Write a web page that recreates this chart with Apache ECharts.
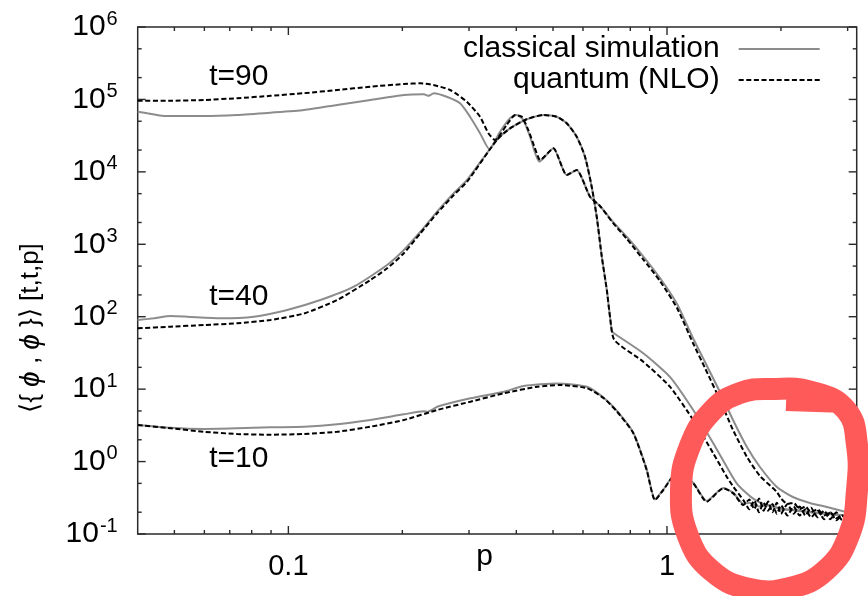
<!DOCTYPE html>
<html><head><meta charset="utf-8">
<script src="https://cdn.jsdelivr.net/npm/echarts@6/dist/echarts.min.js"></script>
<style>html,body{margin:0;padding:0;background:#fff}#c{width:868px;height:596px}</style>
</head><body><div id="c"></div><script>
// ---- data (p, value) ----
const t90_cl_p = [0.04,0.0424,0.0469,0.0599,0.0732,0.0897,0.110,0.1345,0.1647,0.2018,0.2279,0.2349,0.2421,0.2620,0.2841,0.3019,0.3208,0.3396,0.3623,0.3850,0.4011,0.4175,0.4348,0.4602,0.5010,0.5434,0.5775,0.6261,0.6653,0.7202,0.7840,0.8641,0.9583,1.063,1.171,1.26,1.38,1.494,1.626,1.76,1.951,2.15,2.385,2.646,3.04,3.17];
const t90_cl_v = [6.77e4,6.43e4,5.90e4,5.90e4,6.10e4,6.56e4,7.14e4,8.38e4,9.82e4,1.15e5,1.18e5,1.12e5,1.22e5,1.09e5,8.84e4,5.77e4,3.41e4,2.05e4,3.58e4,5.49e4,6.10e4,5.20e4,3.06e4,1.38e4,2.11e4,9.05e3,1.06e4,4.54e3,3.38e3,2.03e3,1.26e3,689,342,150,50.8,23.7,9.13,3.75,1.59,0.841,0.445,0.324,0.268,0.236,0.195,0.183];

const t90_qu_p = [0.04,0.0489,0.0599,0.0732,0.0897,0.110,0.1345,0.1647,0.2018,0.2228,0.2415,0.2674,0.2960,0.3208,0.3375,0.3515,0.3773,0.3971,0.4135,0.4303,0.4529,0.4621,0.5010,0.5434,0.5775,0.6261,0.6653,0.7202,0.7840,0.8641,0.9583,1.063,1.171,1.26,1.38,1.494,1.626,1.76,1.951,2.0,2.08,2.16,2.24,2.32,2.4,2.5,2.6,2.7,2.8,2.9,3.0,3.1,3.17];
const t90_qu_v = [9.60e4,9.60e4,9.82e4,1.04e5,1.12e5,1.22e5,1.35e5,1.50e5,1.63e5,1.67e5,1.58e5,1.35e5,9.30e4,5.77e4,3.41e4,2.75e4,4.44e4,6.10e4,5.77e4,3.78e4,1.80e4,1.46e4,2.11e4,9.05e3,1.06e4,4.54e3,3.38e3,1.97e3,1.18e3,626,311,132,43.4,19.6,7.08,2.73,1.16,0.632,0.380,0.31,0.26,0.27,0.22,0.24,0.20,0.22,0.18,0.20,0.165,0.18,0.155,0.165,0.15];

const t40_cl_p = [0.04,0.0442,0.0489,0.0540,0.0662,0.0811,0.0993,0.1215,0.1489,0.1823,0.2018,0.2232,0.2471,0.2734,0.2965,0.3551,0.3850,0.4261,0.4715,0.5113,0.5434,0.5775,0.6074,0.6326,0.6523,0.6727,0.6935,0.7071,0.7145,0.7214,0.8657,1.018,1.173,1.325,1.438,1.528,1.623,1.7,1.8,1.9,2.0,2.2,2.4,2.6,2.8,3.0,3.17];
const t40_cl_v = [90.1,95.1,102,100,95.1,100,124,170,260,517,834,1490,2820,5060,7720,27500,39900,53200,61000,57700,46800,30600,16200,6240,2400,674,234,100,65.5,60.1,31.3,14.8,5.15,1.79,0.849,0.501,0.364,0.30,0.26,0.24,0.225,0.21,0.20,0.19,0.185,0.18,0.175];

const t40_qu_p = [0.04,0.0489,0.0599,0.0732,0.0897,0.110,0.1345,0.1647,0.1823,0.2018,0.2232,0.2471,0.2734,0.2965,0.3551,0.3850,0.4261,0.4715,0.5113,0.5434,0.5775,0.6074,0.6326,0.6523,0.6727,0.6935,0.7071,0.7259,0.8657,1.018,1.173,1.325,1.438,1.497,1.591,1.65,1.7,1.75,1.8,1.85,1.9,1.95,2.0,2.08,2.16,2.24,2.32,2.4,2.5,2.6,2.7,2.8,2.9,3.0,3.1,3.17];
const t40_qu_v = [69.2,72.8,76.8,81.1,90.1,111,170,321,466,751,1420,2680,4790,7310,27500,39900,53200,61000,57700,46800,30600,16200,6240,2400,674,234,100,47.7,23.9,10.8,3.75,1.30,0.618,0.450,0.294,0.22,0.29,0.20,0.27,0.21,0.26,0.19,0.25,0.18,0.24,0.18,0.22,0.17,0.21,0.16,0.20,0.155,0.18,0.15,0.165,0.145];

const t10_cl_p = [0.04,0.0489,0.0599,0.0732,0.0897,0.110,0.1345,0.1647,0.2018,0.2280,0.2330,0.2400,0.2471,0.3025,0.3706,0.4184,0.5124,0.6147,0.6808,0.7379,0.8149,0.8839,0.9297,0.9777,1.061,1.173,1.273,1.408,1.497,1.591,1.65,1.75,1.85,2.0,2.2,2.4,2.6,2.8,3.0,3.17];
const t10_cl_v = [3.20,2.93,2.82,2.88,2.97,3.03,3.27,3.75,4.49,4.95,4.85,5.2,5.72,7.47,9.22,11.05,12.0,10.8,7.6,5.0,2.5,0.78,0.30,0.41,0.70,0.51,0.285,0.43,0.37,0.26,0.27,0.24,0.25,0.22,0.215,0.20,0.195,0.185,0.18,0.17];

const t10_qu_p = [0.04,0.0489,0.0599,0.0732,0.0897,0.110,0.1345,0.1647,0.2018,0.2471,0.3025,0.3706,0.4536,0.5228,0.6147,0.6808,0.7379,0.8149,0.8839,0.9297,0.9777,1.061,1.173,1.273,1.408,1.497,1.591,1.65,1.7,1.75,1.8,1.85,1.9,1.95,2.0,2.08,2.16,2.24,2.32,2.4,2.5,2.6,2.7,2.8,2.9,3.0,3.1,3.17];
const t10_qu_v = [3.20,2.88,2.58,2.40,2.35,2.40,2.58,3.03,3.75,5.15,6.71,8.76,10.8,11.4,10.3,7.47,4.9,2.46,0.765,0.294,0.405,0.689,0.501,0.279,0.428,0.364,0.251,0.30,0.22,0.31,0.21,0.28,0.20,0.27,0.19,0.26,0.19,0.24,0.18,0.23,0.17,0.21,0.16,0.20,0.155,0.18,0.15,0.16];

// curve labels
const curveLabels = ['t=90','t=40','t=10'];
const curveLabelP = [0.074,0.074,0.074];
const curveLabelV = [2.04e5,187,1.085];

// axis range and ticks
const xMin = 0.04, xMax = 3.17, yMin = 0.1, yMax = 1e6;
const xMajor = [0.1, 1];
const xMinor = [0.05,0.06,0.07,0.08,0.09,0.2,0.3,0.4,0.5,0.6,0.7,0.8,0.9,2,3];
const yMajor = [0.1,1,10,100,1e3,1e4,1e5,1e6];
const yMinor = [0.2,0.5,2,5,20,50,200,500,2e3,5e3,2e4,5e4,2e5,5e5];
const xName = 'p';
const yName = '⟨{ {i|ϕ} , {i|ϕ} }⟩ [t,t,p]';

const SERIES_CL = 'classical simulation';
const SERIES_QU = 'quantum (NLO)';
const FONT = '"Liberation Sans", Arial, Helvetica, sans-serif';
const AXC = '#2a2a2a';
const RED = '#ff5a5a';
const MAJOR_LEN = 8, MINOR_LEN = 4;

function zip(p, v) { return p.map((x, i) => [x, v[i]]); }

const xMain = {
  type: 'log', logBase: 10, min: xMin, max: xMax, position: 'bottom',
  axisLine: { show: false, onZero: false }, splitLine: { show: false }, axisTick: { show: false },
  axisLabel: { show: true, customValues: xMajor, margin: 18, fontSize: 29, color: '#000', fontFamily: FONT,
    formatter: v => String(+(+v).toPrecision(3)) }
};
const yMain = {
  type: 'log', logBase: 10, min: yMin, max: yMax, position: 'left',
  axisLine: { show: false, onZero: false }, splitLine: { show: false }, axisTick: { show: false },
  axisLabel: { show: true, customValues: yMajor, margin: 20, color: '#000', fontFamily: FONT,
    formatter: v => '{b|10}{s|' + Math.round(Math.log10(v)) + '}',
    rich: { b: { fontSize: 30, fontFamily: FONT, color: '#000', lineHeight: 30 },
            s: { fontSize: 20, fontFamily: FONT, color: '#000', padding: [0, 0, 16, 1] } } }
};

const clStyle = { color: '#8c8c8c', width: 2 };
const quStyle = { color: '#000', width: 2, type: [5, 2.6] };
function line(name, data, style, z) {
  return { name, type: 'line', data, showSymbol: false, symbol: 'none', smooth: 0.2, z,
    lineStyle: style, itemStyle: { color: style.color }, silent: true, emphasis: { disabled: true } };
}
const legendBase = { right: 47.3, orient: 'vertical', align: 'right', padding: 0, itemWidth: 81, itemHeight: 30,
  selectedMode: false, itemStyle: { opacity: 0 },
  textStyle: { fontSize: 30, color: '#000', fontFamily: FONT, padding: [0, 14, 0, 0] } };

const baseGraphic = [
  { type: 'text', x: 31, y: 328, rotation: Math.PI / 2, z: 10,
    style: { text: yName, fontSize: 26, fontFamily: FONT, fill: '#000', align: 'center', verticalAlign: 'middle',
      rich: { i: { fontSize: 28, fontStyle: 'italic', fontFamily: FONT, fill: '#000' } } } },
  { type: 'text', x: 484.5, y: 557, z: 10,
    style: { text: xName, fontSize: 30, fontFamily: FONT, fill: '#000', align: 'center', verticalAlign: 'middle' } },
  // hand-drawn red annotation ring
  { type: 'polygon', z: 100, shape: { smooth: 0.45, points: [
      [772,389],[812,392],[846,410],[857,445],[857,490],[849,535],[826,570],[790,588],[750,589],
      [712,571],[688,536],[681,490],[690,446],[712,411],[740,393]] },
    style: { fill: 'none', stroke: RED, lineWidth: 22 } },
  { type: 'polyline', z: 100, shape: { points: [[786,404],[846,406]] }, style: { stroke: RED, lineWidth: 14, fill: 'none' } }
];

const chart = echarts.init(document.getElementById('c'), null, { renderer: 'canvas' });
chart.setOption({
  animation: false,
  backgroundColor: '#fff',
  grid: { left: 137.7, right: 11.3, top: 27, bottom: 62, containLabel: false, outerBoundsMode: 'none',
          show: true, borderColor: AXC, borderWidth: 1.5, backgroundColor: 'transparent' },
  xAxis: xMain,
  yAxis: yMain,
  legend: [
    Object.assign({ data: [SERIES_CL], top: 34 }, legendBase),
    Object.assign({ data: [SERIES_QU], top: 65 }, legendBase)
  ],
  series: [
    line(SERIES_CL, zip(t90_cl_p, t90_cl_v), clStyle, 2),
    line(SERIES_CL, zip(t40_cl_p, t40_cl_v), clStyle, 2),
    line(SERIES_CL, zip(t10_cl_p, t10_cl_v), clStyle, 2),
    line(SERIES_QU, zip(t90_qu_p, t90_qu_v), quStyle, 3),
    line(SERIES_QU, zip(t40_qu_p, t40_qu_v), quStyle, 3),
    line(SERIES_QU, zip(t10_qu_p, t10_qu_v), quStyle, 3),
    { name: 'labels', type: 'scatter', symbolSize: 1, itemStyle: { color: 'rgba(0,0,0,0)' }, silent: true, z: 5,
      data: curveLabels.map((t, i) => ({ value: [curveLabelP[i], curveLabelV[i]], name: t })),
      label: { show: true, position: 'inside', formatter: pr => pr.name, fontSize: 30, color: '#000', opacity: 1, fontFamily: FONT } }
  ],
  graphic: baseGraphic
});

// mirrored inward ticks on all four sides, placed through the chart's own log scales
const tickGraphic = [];
const tl = chart.convertToPixel({ gridIndex: 0 }, [xMin, yMax]);
const br = chart.convertToPixel({ gridIndex: 0 }, [xMax, yMin]);
const tStyle = { stroke: AXC, lineWidth: 1.4 };
function addX(v, len) {
  const x = chart.convertToPixel({ xAxisIndex: 0 }, v);
  tickGraphic.push({ type: 'line', z: 50, silent: true, shape: { x1: x, y1: br[1], x2: x, y2: br[1] - len }, style: tStyle });
  tickGraphic.push({ type: 'line', z: 50, silent: true, shape: { x1: x, y1: tl[1], x2: x, y2: tl[1] + len }, style: tStyle });
}
function addY(v, len) {
  const y = chart.convertToPixel({ yAxisIndex: 0 }, v);
  tickGraphic.push({ type: 'line', z: 50, silent: true, shape: { x1: tl[0], y1: y, x2: tl[0] + len, y2: y }, style: tStyle });
  tickGraphic.push({ type: 'line', z: 50, silent: true, shape: { x1: br[0], y1: y, x2: br[0] - len, y2: y }, style: tStyle });
}
xMajor.forEach(v => addX(v, MAJOR_LEN)); xMinor.forEach(v => addX(v, MINOR_LEN));
yMajor.forEach(v => addY(v, MAJOR_LEN)); yMinor.forEach(v => addY(v, MINOR_LEN));
chart.setOption({ graphic: baseGraphic.concat(tickGraphic) });
</script></body></html>
